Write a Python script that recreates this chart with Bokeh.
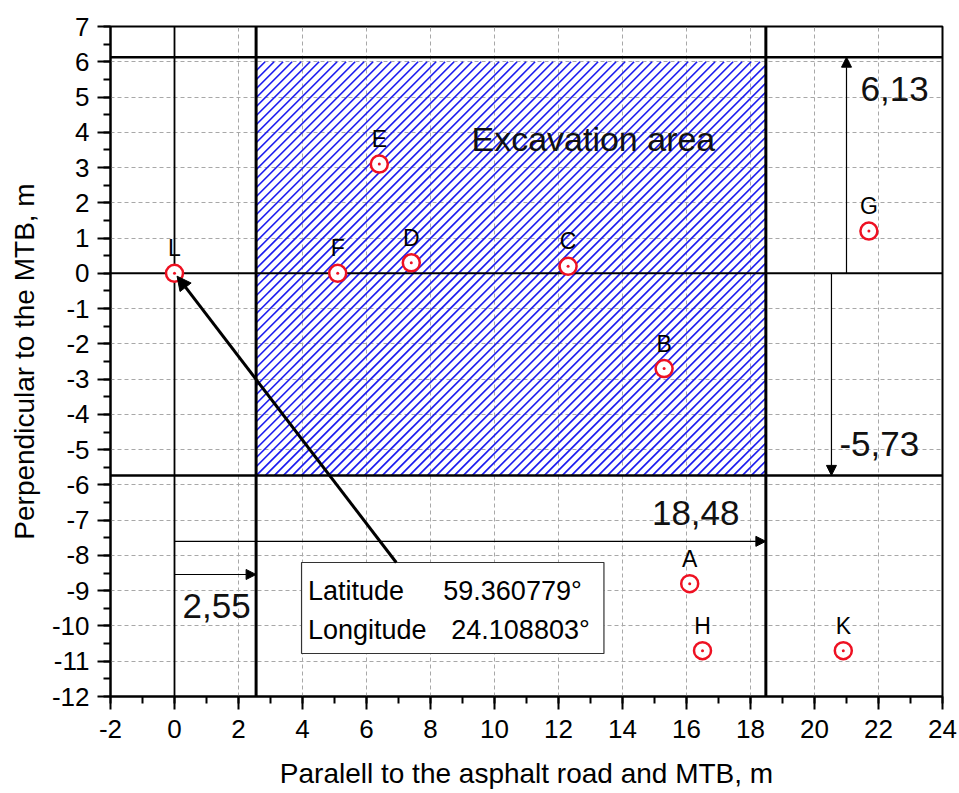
import numpy as np
from bokeh.plotting import figure
from bokeh.models import Range1d, SingleIntervalTicker, Arrow, NormalHead
from bokeh.core.properties import value
from bokeh.embed import file_html
from bokeh.resources import INLINE

FONT = value("Liberation Sans")

# Surveyed points (m): along the road / perpendicular to the MTB
point_names = ["L", "F", "D", "E", "C", "B", "G", "A", "H", "K"]
point_x = [0.0, 5.1, 7.4, 6.4, 12.3, 15.3, 21.7, 16.1, 16.5, 20.9]
point_y = [0.0, 0.0, 0.3, 3.1, 0.2, -2.7, 1.2, -8.8, -10.7, -10.7]

# Excavation area extent
exc_x = [2.55, 18.48]
exc_y = [-5.73, 6.0]

# Reference boundary lines
boundary_x = [0.0, 2.55, 18.48]
boundary_y = [6.13, 0.0, -5.73]

# Dimension values shown with arrows
dim_up, dim_down, dim_long, dim_short = 6.13, -5.73, 18.48, 2.55
dim_texts = ["6,13", "-5,73", "18,48", "2,55"]

# Reference point coordinates
coord_names = ["Latitude", "Longitude"]
coord_values = ["59.360779°", "24.108803°"]

x_lo, x_hi = -2, 24
y_lo, y_hi = -12, 7

W, H = 959, 793
B_LEFT, B_RIGHT, B_TOP, B_BOTTOM = 110, 17, 26, 97

p = figure(width=W, height=H, x_range=Range1d(x_lo, x_hi), y_range=Range1d(y_lo, y_hi),
           output_backend="svg", toolbar_location=None,
           min_border_left=B_LEFT, min_border_right=B_RIGHT,
           min_border_top=B_TOP, min_border_bottom=B_BOTTOM)
p.background_fill_color = "white"
p.border_fill_color = "white"
p.outline_line_color = "black"
p.outline_line_width = 2

# axes
p.xaxis.ticker = SingleIntervalTicker(interval=2, num_minor_ticks=2)
p.yaxis.ticker = SingleIntervalTicker(interval=1, num_minor_ticks=2)
for ax in (p.xaxis[0], p.yaxis[0]):
    ax.axis_line_width = 2
    ax.axis_line_color = "black"
    ax.major_tick_in = 0
    ax.major_tick_out = 13
    ax.minor_tick_in = 0
    ax.minor_tick_out = 7
    ax.major_tick_line_width = 2
    ax.minor_tick_line_width = 2
    ax.major_tick_line_color = "black"
    ax.minor_tick_line_color = "black"
    ax.major_label_text_font = "Liberation Sans"
    ax.major_label_text_font_size = "26px"
    ax.major_label_text_color = "black"
    ax.axis_label_text_font = "Liberation Sans"
    ax.axis_label_text_font_size = "28px"
    ax.axis_label_text_font_style = "normal"
    ax.axis_label_text_color = "black"
# plain hyphen for negative tick labels
p.xaxis.major_label_overrides = {v: str(v) for v in range(x_lo, x_hi + 1, 2)}
p.yaxis.major_label_overrides = {v: str(v) for v in range(y_lo, y_hi + 1)}
p.xaxis.axis_label = "Paralell to the asphalt road and MTB, m"
p.yaxis.axis_label = "Perpendicular to the MTB, m"
p.xaxis.major_label_standoff = 10
p.yaxis.major_label_standoff = 8
p.xaxis.axis_label_standoff = 17
p.yaxis.axis_label_standoff = 9

# grid
for g in (p.xgrid[0], p.ygrid[0]):
    g.grid_line_color = "#a8a8a8"
    g.grid_line_dash = "4 3"
    g.grid_line_width = 1

# 45-degree hatching of the excavation area, built in screen proportions
px_x = (W - B_LEFT - B_RIGHT) / (x_hi - x_lo)
px_y = (H - B_TOP - B_BOTTOM) / (y_hi - y_lo)
k = px_y / px_x                 # data dx per data dy along a 45° screen line
step = 9.0 / px_x               # 9 px horizontal pitch
xl, xr = exc_x
yb, yt = exc_y
hx0, hy0, hx1, hy1 = [], [], [], []
for c in np.arange(xl - (yt - yb) * k, xr, step):
    ys = max(yb, yb + (xl - c) / k)
    ye = min(yt, yb + (xr - c) / k)
    if ye > ys:
        hx0.append(c + (ys - yb) * k); hy0.append(ys)
        hx1.append(c + (ye - yb) * k); hy1.append(ye)
p.segment(x0=hx0, y0=hy0, x1=hx1, y1=hy1, line_color="#1c1cf0", line_width=1.7)

# boundary lines
p.segment(x0=boundary_x, x1=boundary_x, y0=[y_lo] * 3, y1=[y_hi] * 3,
          line_color="black", line_width=[1.8, 3, 3])
p.segment(x0=[x_lo] * 3, x1=[x_hi] * 3, y0=boundary_y, y1=boundary_y,
          line_color="black", line_width=[2.5, 2, 2.5])

# callout box
box_l, box_r, box_b, box_t = 3.97, 13.42, -10.78, -8.2
p.quad(left=box_l, right=box_r, bottom=box_b, top=box_t,
       fill_color="white", line_color="#333333", line_width=1.2)
p.text(x=[4.17, 4.17], y=[-9.0, -10.12], text=coord_names, text_font=FONT,
       text_font_size="27px", text_color="black", text_baseline="middle", text_align="left")
p.text(x=[8.4, 8.65], y=[-9.0, -10.12], text=coord_values, text_font=FONT,
       text_font_size="27px", text_color="black", text_baseline="middle", text_align="left")

# points
p.scatter(point_x, point_y, marker="circle", size=17, line_color="#ee1122", line_width=2.5,
          fill_color="white")
p.scatter(point_x, point_y, marker="circle", size=3, line_color=None, fill_color="#ee1122")
p.text(x=point_x, y=point_y, text=point_names, text_font=FONT, text_font_size="23px",
       text_color="black", text_align="center", text_baseline="middle", y_offset=-25)

# area label and dimensions
p.text(x=[9.28], y=[3.82], text=["Excavation area"], text_font=FONT, text_font_size="34px",
       text_color="#111111", text_baseline="middle")
p.text(x=[21.44, 20.78, 14.92, 0.25], y=[5.24, -4.85, -6.81, -9.42], text=dim_texts,
       text_font=FONT, text_font_size="35px", text_color="#111111", text_baseline="middle")

def dim_arrow(xs, ys, xe, ye, width=1.2, size=10):
    p.add_layout(Arrow(end=NormalHead(size=size, fill_color="black", line_color="black"),
                       x_start=xs, y_start=ys, x_end=xe, y_end=ye,
                       line_width=width, line_color="black"))

dim_arrow(21.0, 0.0, 21.0, dim_up)
dim_arrow(20.53, 0.0, 20.53, dim_down)
dim_arrow(0.0, -7.6, dim_long, -7.6)
dim_arrow(0.0, -8.54, dim_short, -8.54)
# leader from the coordinate box to point L
dim_arrow(6.93, box_t, point_x[0] + 0.08, point_y[0] - 0.08, width=3, size=14)

open("out.html", "w").write(file_html(p, INLINE))
